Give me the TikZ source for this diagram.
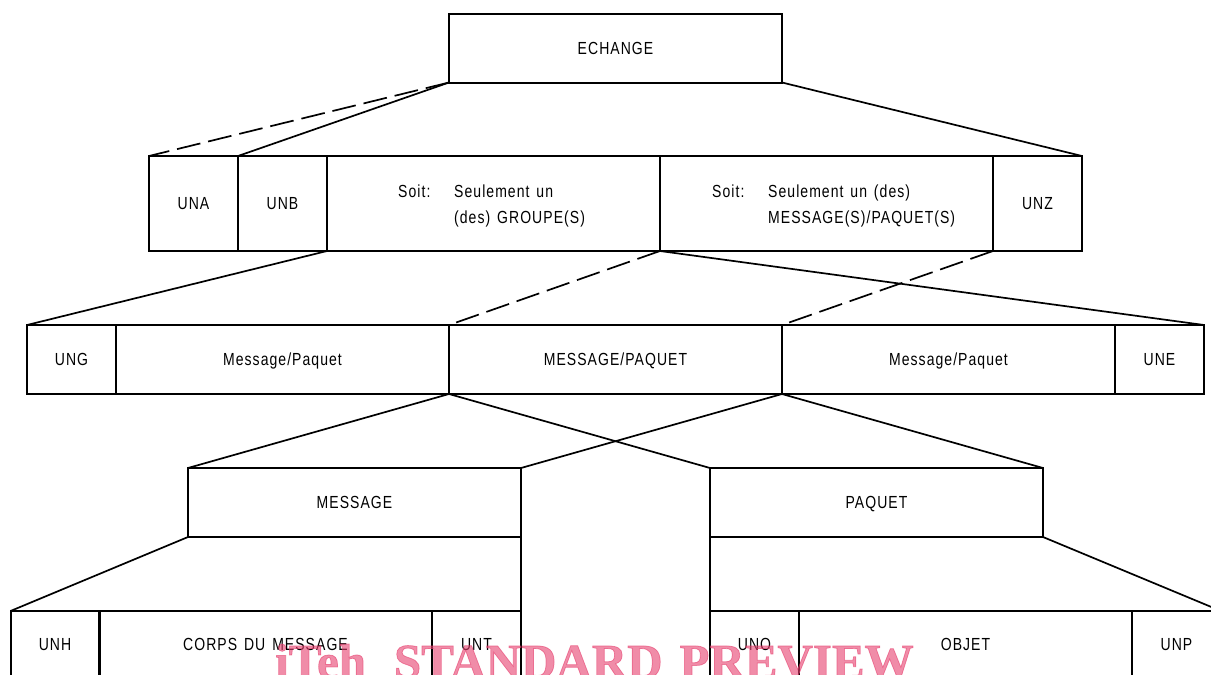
\documentclass[tikz,border=0pt]{standalone}
\usepackage{fontspec}
\setmainfont{Liberation Sans}[FakeStretch=0.8,LetterSpace=6,WordSpace=1.4]
\newfontfamily\wmfont{Liberation Serif Bold}[FakeBold=1.5]
\usepackage{tikz}
\usetikzlibrary{positioning}
\definecolor{wmpink}{RGB}{230,63,110}
\newcommand{\boxfont}{\fontsize{17.5}{26}\selectfont}
\tikzset{basic/.style={draw,line width=2pt,inner sep=0pt,outer sep=0pt,font=\boxfont,text height=12.5pt,text depth=0pt}}
\tikzset{narrow/.style={basic,minimum width=89pt}}
\tikzset{wide/.style={basic,minimum width=333pt}}
\tikzset{link/.style={line width=1.7pt}}
\tikzset{dashlink/.style={link,dash pattern=on 24pt off 8pt}}

\begin{document}
\begin{tikzpicture}[x=1pt,y=-1pt]
		\useasboundingbox (0,0) rectangle (1211,675);
		\clip (0,0) rectangle (1211,675);
		\tikzstyle{tall}=[minimum height=95pt]
		\tikzstyle{flat}=[minimum height=69pt]

		\node[wide,flat](ech) at (615.5,48){ECHANGE};

		\node[narrow,tall](una) at (193.5,203.5){UNA};
		\node[narrow,tall](unb) at (282.5,203.5){UNB};
		\node[wide,tall](soitA) at (493.5,203.5){};
		\node[wide,tall](soitB) at (826.5,203.5){};
		\node[narrow,tall](unz) at (1037.5,203.5){UNZ};
		\node[font=\boxfont,anchor=west,inner sep=0pt](txtA) at (398,205){\begin{tabular}{@{}p{56pt}@{}l@{}}Soit: & Seulement un\\ & (des) GROUPE(S)\end{tabular}};
		\node[font=\boxfont,anchor=west,inner sep=0pt](txtB) at (712,205){\begin{tabular}{@{}p{56pt}@{}l@{}}Soit: & Seulement un (des)\\ & MESSAGE(S)/PAQUET(S)\end{tabular}};

		\node[narrow,flat](ung) at (71.5,359.5){UNG};
		\node[wide,flat](mpA) at (282.5,359.5){Message/Paquet};
		\node[wide,flat](mp) at (615.5,359.5){MESSAGE/PAQUET};
		\node[wide,flat](mpB) at (948.5,359.5){Message/Paquet};
		\node[narrow,flat](une) at (1159.5,359.5){UNE};

		\node[wide,flat](msg) at (354.5,502.5){MESSAGE};
		\node[wide,flat](paq) at (876.5,502.5){PAQUET};

		\node[narrow,minimum height=66pt](unh) at (55,644){UNH};
		\node[wide,minimum height=66pt](corps) at (265.5,644){CORPS DU MESSAGE};
		\node[narrow,minimum height=66pt](unt) at (476.5,644){UNT};
		\node[narrow,minimum height=66pt](uno) at (754.5,644){UNO};
		\node[wide,minimum height=66pt](objet) at (965.5,644){OBJET};
		\node[narrow,minimum height=66pt](unp) at (1176.5,644){UNP};

		\draw[dashlink] (ech.south west) -- (una.north west);
		\draw[link] (ech.south west) -- (unb.north west);
		\draw[link] (ech.south east) -- (unz.north east);

		\draw[link] (unb.south east) -- (ung.north west);
		\draw[dashlink] (soitA.south east) -- (mp.north west);
		\draw[link] (soitB.south west) -- (une.north east);
		\draw[dashlink] (unz.south west) -- (mp.north east);

		\draw[link] (mp.south west) -- (msg.north west);
		\draw[link] (mp.south west) -- (paq.north west);
		\draw[link] (mp.south east) -- (msg.north east);
		\draw[link] (mp.south east) -- (paq.north east);

		\draw[link] (msg.south west) -- (unh.north west);
		\draw[link] (msg.south east) -- (unt.north east);
		\draw[link] (paq.south west) -- (uno.north west);
		\draw[link] (paq.south east) -- (unp.north east);

		% watermark
		\node[anchor=base west,inner sep=0pt,text=wmpink,text opacity=0.6,font=\wmfont\fontsize{49}{49}\selectfont](wm) at (275,678){iTeh\hspace{28pt}STANDARD\hspace{17pt}PREVIEW};
	\end{tikzpicture}
\end{document}
